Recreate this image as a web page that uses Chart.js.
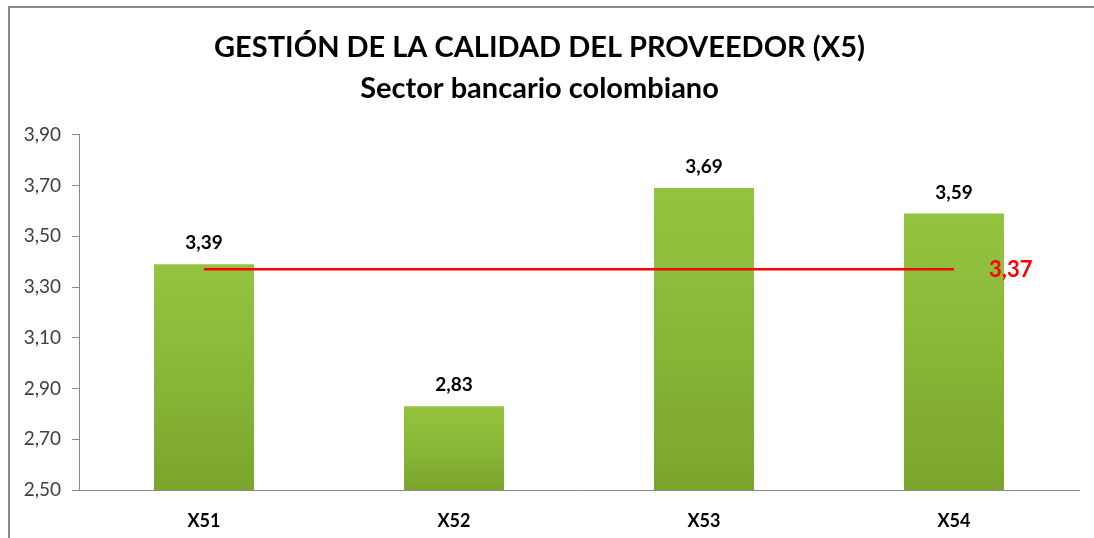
<!DOCTYPE html>
<html>
<head>
<meta charset="utf-8">
<script src="https://cdn.jsdelivr.net/npm/chart.js@4.4.1/dist/chart.umd.min.js"></script>
<style>
  html, body { margin: 0; padding: 0; background: #ffffff; }
  #wrap { position: relative; width: 1094px; height: 538px; overflow: hidden; }
  #frame { position: absolute; left: 8px; top: 6px; width: 1200px; height: 700px;
           border-left: 2px solid #8a8a8a; border-top: 2px solid #8a8a8a; box-sizing: border-box; pointer-events: none; }
  canvas { position: absolute; left: 0; top: 0; }
</style>
</head>
<body>
<div id="wrap">
  <canvas id="c" width="1094" height="538"></canvas>
  <div id="frame"></div>
</div>
<script>
const categories = ["X51", "X52", "X53", "X54"];
const values = [3.39, 2.83, 3.69, 3.59];
const averageValue = 3.37;
const averageLine = [averageValue, averageValue, averageValue, averageValue];
const yTicks = [2.50, 2.70, 2.90, 3.10, 3.30, 3.50, 3.70, 3.90];
const titleLines = ["GESTIÓN DE LA CALIDAD DEL PROVEEDOR (X5)", "Sector bancario colombiano"];

const FONT = "Lato, 'Open Sans', sans-serif";
const fmt = v => v.toFixed(2).replace('.', ',');

const labelPlugin = {
  id: 'valueLabels',
  afterDatasetsDraw(chart) {
    const ctx = chart.ctx;
    ctx.save();
    const barMeta = chart.getDatasetMeta(0);
    ctx.font = "bold 19px " + FONT;
    ctx.fillStyle = "#000000";
    ctx.textAlign = "center";
    ctx.textBaseline = "middle";
    barMeta.data.forEach((el, i) => {
      ctx.fillText(fmt(values[i]), el.x, el.y - 21);
    });
    const lineMeta = chart.getDatasetMeta(1);
    const last = lineMeta.data[lineMeta.data.length - 1];
    ctx.font = "bold 22px " + FONT;
    ctx.fillStyle = "#ff0000";
    ctx.textAlign = "left";
    ctx.fillText(fmt(averageValue), last.x + 35, last.y + 1);
    ctx.restore();
  }
};

function barGradient(context) {
  const chart = context.chart;
  const ys = chart.scales.y;
  if (!ys || !chart.chartArea) return '#86b236';
  const v = context.raw;
  const top = ys.getPixelForValue(v);
  const bottom = ys.getPixelForValue(ys.min);
  const g = chart.ctx.createLinearGradient(0, top, 0, bottom);
  g.addColorStop(0, '#94c43f');
  g.addColorStop(0.5, '#88b737');
  g.addColorStop(1, '#7aa52c');
  return g;
}

new Chart(document.getElementById('c'), {
  data: {
    labels: categories,
    datasets: [
      {
        type: 'bar',
        data: values,
        backgroundColor: barGradient,
        borderWidth: 0,
        categoryPercentage: 1.0,
        barPercentage: 0.4,
        order: 1
      },
      {
        type: 'line',
        data: averageLine,
        borderColor: '#ff0000',
        borderWidth: 2.5,
        pointRadius: 0,
        fill: false,
        order: 0
      }
    ]
  },
  options: {
    responsive: false,
    animation: false,
    layout: { padding: { left: 0, right: 15, top: 0, bottom: 0 } },
    plugins: {
      legend: { display: false },
      tooltip: { enabled: false },
      title: {
        display: true,
        text: titleLines,
        color: '#000000',
        font: { family: FONT, size: 29, weight: 'bold', lineHeight: 1.41 },
        padding: { top: 27, bottom: 26 }
      }
    },
    scales: {
      x: {
        grid: { display: false, drawTicks: false },
        border: { display: true, color: '#8a8a8a', width: 1 },
        ticks: { color: '#000000', font: { family: FONT, size: 18, weight: 'bold' }, padding: 20 },
        afterFit(scale) { scale.height = 48; }
      },
      y: {
        min: 2.5,
        max: 3.9,
        grid: { drawOnChartArea: false, drawTicks: true, tickLength: 7, color: '#8a8a8a' },
        border: { display: true, color: '#8a8a8a', width: 1 },
        afterBuildTicks(scale) { scale.ticks = yTicks.map(v => ({ value: v })); },
        ticks: {
          color: '#404040',
          font: { family: FONT, size: 19 },
          padding: 11,
          callback: v => fmt(v)
        },
        afterFit(scale) { scale.width = 79; }
      }
    }
  },
  plugins: [labelPlugin]
});
</script>
</body>
</html>
